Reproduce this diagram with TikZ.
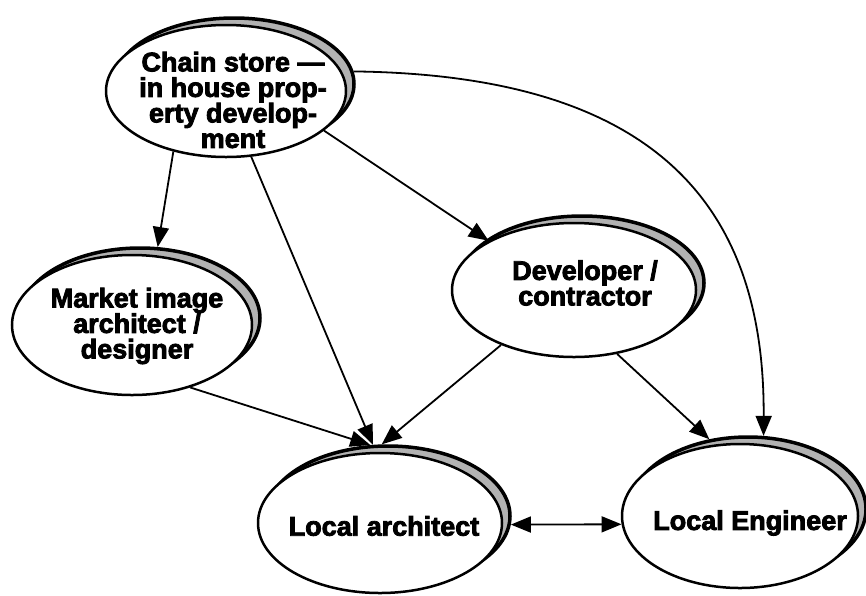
\documentclass[tikz,border=0pt]{standalone}
\usepackage{fontspec}
\setmainfont[BoldFeatures={FakeBold=3}]{Liberation Sans}
\usetikzlibrary{arrows.meta,shapes.geometric}
\begin{document}
\begin{tikzpicture}[x=1pt,y=-1pt,
  ell/.style={ellipse,draw=black,line width=2.5pt,fill=white,inner sep=0pt},
  shad/.style={ellipse,draw=black,line width=3.5pt,fill=gray!60,inner sep=0pt},
  txt/.style={font=\fontsize{27}{25.5}\selectfont\bfseries,align=center,inner sep=0pt},
  tip/.tip={Triangle[length=20pt,width=16pt]},
  conn/.style={line width=1.8pt,-tip},
  dconn/.style={line width=1.8pt,tip-tip},
]
\useasboundingbox (0,0) rectangle (866,595);
% shadows
\node[shad,minimum width=240pt,minimum height=132pt] (chainS) at (234,84) {};
\node[shad,minimum width=240pt,minimum height=140pt] (marketS) at (140,318) {};
\node[shad,minimum width=244pt,minimum height=134pt] (devS) at (582,283) {};
\node[shad,minimum width=244pt,minimum height=140pt] (archS) at (388,516) {};
\node[shad,minimum width=236pt,minimum height=144pt] (engS) at (748,509) {};
% main ellipses
\node[ell,minimum width=240pt,minimum height=132pt] (chain) at (226,91) {};
\node[ell,minimum width=240pt,minimum height=140pt] (market) at (132,325) {};
\node[ell,minimum width=244pt,minimum height=134pt] (dev) at (574,290) {};
\node[ell,minimum width=244pt,minimum height=140pt] (arch) at (380,523) {};
\node[ell,minimum width=236pt,minimum height=144pt] (eng) at (740,516) {};
% texts
\node[txt] (chainT) at (233,100) {Chain store —\\in house prop-\\erty develop-\\ment};
\node[txt] (marketT) at (137,326) {Market image\\architect /\\designer};
\node[txt] (devT) at (585,283) {Developer /\\contractor};
\node[txt] (archT) at (384,526) {Local architect};
\node[txt] (engT) at (750,523) {Local Engineer};
% connectors
\draw[conn] (chain.229) -- (marketS.76);
\draw[conn] (chain.291) -- (archS.102);
\draw[conn] (chain.338) -- (dev.150);
\draw[conn] (chainS.6) .. controls (650,75) and (765,200) .. (engS.78);
\draw[conn] (market.313) -- (archS.104);
\draw[conn] (dev.217) -- (archS.95);
\draw[conn] (dev.304) -- (engS.119);
\draw[dconn] (archS.-4) -- (eng.184);
\end{tikzpicture}
\end{document}
